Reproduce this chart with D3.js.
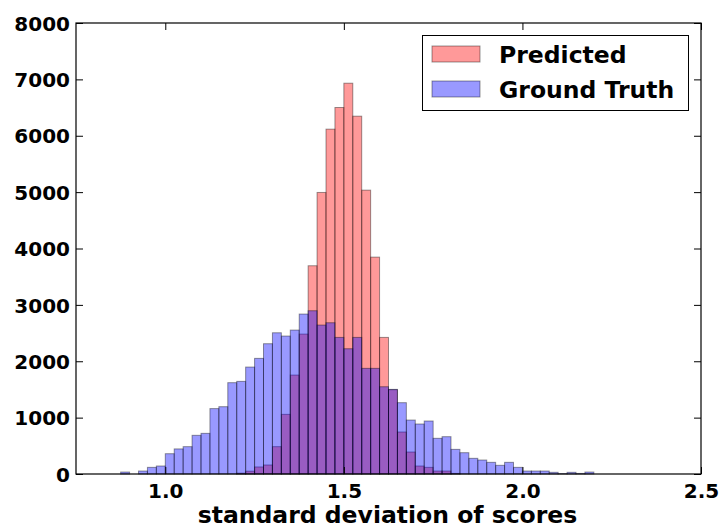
<!DOCTYPE html>
<html><head><meta charset="utf-8">
<script src="https://cdn.jsdelivr.net/npm/d3@7"></script>
<style>
body{margin:0;background:#fff;}
svg{display:block;font-family:"DejaVu Sans",sans-serif;}
</style></head><body>
<svg id="c" width="719" height="528"></svg>
<script>
// bin start values (bin width 0.025)
const binStarts = [0.850,0.875,0.900,0.925,0.950,0.975,1.000,1.025,1.050,1.075,1.100,1.125,1.150,1.175,
1.200,1.225,1.250,1.275,1.300,1.325,1.350,1.375,1.400,1.425,1.450,1.475,1.500,1.525,1.550,1.575,
1.600,1.625,1.650,1.675,1.700,1.725,1.750,1.775,1.800,1.825,1.850,1.875,1.900,1.925,1.950,1.975,
2.000,2.025,2.050,2.075,2.100,2.125,2.150,2.175,2.200];
const binWidth = 0.025;
const groundTruth = [0,35,0,53,118,142,360,445,485,686,721,1160,1194,1620,
1643,1897,2051,2311,2505,2447,2553,2837,2896,2642,2683,2423,2222,2423,1874,1874,
1548,1501,1265,957,887,940,633,662,437,378,278,248,207,154,207,118,
53,53,53,30,8,30,10,35,0];
const predicted = [0,0,0,0,0,0,0,0,0,0,0,0,0,0,
15,50,125,160,485,1058,1755,2482,3694,4994,6117,6501,6932,6347,5035,3847,
2423,1495,745,390,142,118,53,53,10,0,0,0,0,0,0,0,
0,0,0,0,0,0,0,0,0];
const xTicks = [1.0,1.5,2.0,2.5];
const yTicks = [0,1000,2000,3000,4000,5000,6000,7000,8000];
const seriesNames = ["Predicted","Ground Truth"];
const seriesColors = ["#ff0000","#0000ff"];

const svg = d3.select("#c");
const L=76, R=701, T=23, B=474;
const x = d3.scaleLinear().domain([0.75,2.5]).range([L,R]);
const y = d3.scaleLinear().domain([0,8000]).range([B,T]);

function drawBars(vals, color){
  svg.append("g").selectAll("rect").data(binStarts.map((s,i)=>({s,v:vals[i]})).filter(d=>d.v>0))
    .join("rect")
    .attr("x",d=>x(d.s)).attr("width",d=>x(d.s+binWidth)-x(d.s))
    .attr("y",d=>y(d.v)).attr("height",d=>y(0)-y(d.v))
    .attr("fill",color).attr("fill-opacity",0.4)
    .attr("stroke","#000").attr("stroke-opacity",0.4).attr("stroke-width",1);
}
drawBars(predicted, seriesColors[0]);
drawBars(groundTruth, seriesColors[1]);

const tk = 7;
const fmtX = d3.format(".1f");
const gx = svg.append("g").attr("transform",`translate(0,${B})`)
  .call(d3.axisBottom(x).tickValues(xTicks).tickSize(-tk).tickPadding(10).tickFormat(fmtX));
const gxt = svg.append("g").attr("transform",`translate(0,${T})`)
  .call(d3.axisTop(x).tickValues(xTicks).tickSize(-tk).tickFormat(""));
const gy = svg.append("g").attr("transform",`translate(${L},0)`)
  .call(d3.axisLeft(y).tickValues(yTicks).tickSize(-tk).tickPadding(6).tickFormat(d3.format("d")));
const gyr = svg.append("g").attr("transform",`translate(${R},0)`)
  .call(d3.axisRight(y).tickValues(yTicks).tickSize(-tk).tickFormat(""));
[gx,gxt,gy,gyr].forEach(g=>{
  g.select(".domain").remove();
  g.selectAll("line").attr("stroke","#000").attr("stroke-width",1);
  g.selectAll("text").attr("fill","#000").style("font-size","20px").style("font-weight","bold")
   .style("font-family","'DejaVu Sans',sans-serif");
});
gx.selectAll("text").attr("dy","0.71em");
gy.selectAll("text").attr("dy","0.36em");

svg.append("rect").attr("x",L).attr("y",T).attr("width",R-L).attr("height",B-T)
  .attr("fill","none").attr("stroke","#000").attr("stroke-width",1.2);

svg.append("text").attr("x",(L+R)/2-1).attr("y",523).attr("text-anchor","middle")
  .style("font-size","23.5px").style("font-weight","bold").text("standard deviation of scores");

// legend
const lg = svg.append("g");
lg.append("rect").attr("x",422.5).attr("y",35.5).attr("width",266).attr("height",75)
  .attr("fill","#fff").attr("stroke","#000").attr("stroke-width",1);
seriesNames.forEach((n,i)=>{
  const yy = 46 + i*35;
  lg.append("rect").attr("x",432).attr("y",yy).attr("width",48).attr("height",16)
    .attr("fill",seriesColors[i]).attr("fill-opacity",0.4)
    .attr("stroke","#000").attr("stroke-opacity",0.4);
  lg.append("text").attr("x",499).attr("y",yy+17).style("font-size","23.5px").style("font-weight","bold")
    .text(n);
});
</script></body></html>
